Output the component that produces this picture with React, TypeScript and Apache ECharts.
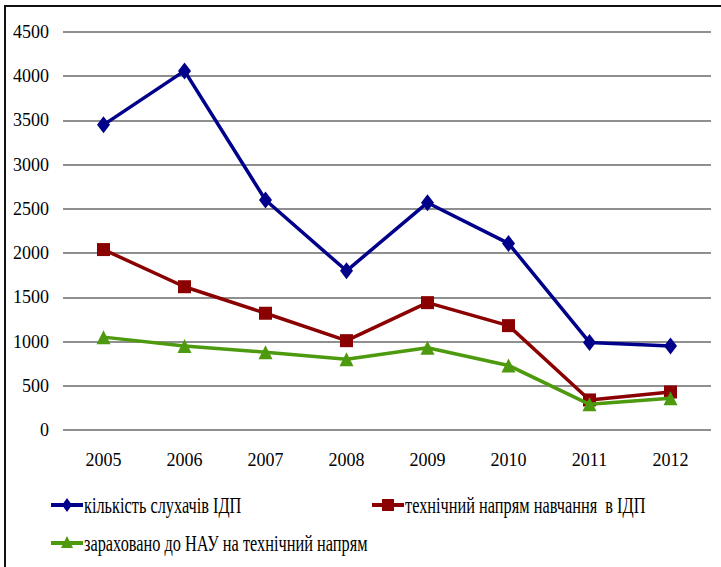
import React, { useEffect, useRef } from "react";
import * as echarts from "echarts";

const years = ["2005", "2006", "2007", "2008", "2009", "2010", "2011", "2012"];
const listeners = [3450, 4060, 2600, 1800, 2570, 2110, 990, 950];
const technical = [2040, 1620, 1320, 1010, 1440, 1180, 340, 430];
const enrolled = [1050, 950, 880, 800, 930, 730, 290, 360];

const seriesNames = [
  "кількість слухачів ІДП",
  "технічний напрям навчання  в ІДП",
  "зараховано до НАУ на технічний напрям",
];
const seriesColors = ["#00008B", "#8B0000", "#4E9A0E"];

const axisFont = "Liberation Sans Narrow";
const legendFont = "Liberation Serif";

// legend entry: short line with the series marker, then a condensed serif caption
function legendEntry(x: number, y: number, idx: number) {
  const color = seriesColors[idx];
  const cx = x + 16;
  let marker: any;
  if (idx === 0) {
    marker = {
      type: "polygon",
      shape: { points: [[cx, y - 7], [cx + 5, y], [cx, y + 7], [cx - 5, y]] },
      style: { fill: color },
    };
  } else if (idx === 1) {
    marker = {
      type: "rect",
      shape: { x: cx - 6, y: y - 6, width: 12, height: 12 },
      style: { fill: color },
    };
  } else {
    marker = {
      type: "polygon",
      shape: { points: [[cx, y - 7], [cx + 6, y + 5], [cx - 6, y + 5]] },
      style: { fill: color },
    };
  }
  return [
    {
      type: "line",
      shape: { x1: x, y1: y, x2: x + 32, y2: y },
      style: { stroke: color, lineWidth: 4 },
      silent: true,
    },
    { ...marker, silent: true },
    {
      type: "text",
      x: x + 33,
      y,
      scaleX: 0.71,
      style: {
        text: seriesNames[idx],
        fontFamily: legendFont,
        fontSize: 23,
        fill: "#000",
        verticalAlign: "middle",
        align: "left",
      },
      silent: true,
    },
  ];
}

export default function App() {
  const ref = useRef<HTMLDivElement>(null);

  useEffect(() => {
    if (!ref.current) return;
    const chart = echarts.init(ref.current, null, { renderer: "svg" });
    chart.setOption({
      animation: false,
      backgroundColor: "#fff",
      graphic: [
        {
          type: "rect",
          shape: { x: 5, y: 6, width: 740, height: 600 },
          style: { fill: "none", stroke: "#111", lineWidth: 2 },
          silent: true,
        },
        ...legendEntry(51, 505, 0),
        ...legendEntry(372, 505, 1),
        ...legendEntry(51, 543, 2),
      ],
      grid: { left: 63, right: 10, top: 32, bottom: 137, containLabel: false },
      xAxis: {
        type: "category",
        data: years,
        boundaryGap: true,
        axisLine: { show: false },
        axisTick: { show: false },
        axisLabel: { fontFamily: axisFont, fontSize: 18, color: "#000", margin: 21 },
      },
      yAxis: {
        type: "value",
        min: 0,
        max: 4500,
        interval: 500,
        axisLine: { show: false },
        axisTick: { show: false },
        axisLabel: {
          fontFamily: axisFont,
          fontSize: 18,
          color: "#000",
          margin: 14,
          formatter: (v: number) => String(v),
        },
        splitLine: { lineStyle: { color: "#6a6a6a", width: 1.5 } },
      },
      series: [
        {
          name: seriesNames[0],
          type: "line",
          data: listeners,
          symbol: "diamond",
          symbolSize: [13, 17],
          lineStyle: { color: seriesColors[0], width: 3.5 },
          itemStyle: { color: seriesColors[0] },
          z: 3,
        },
        {
          name: seriesNames[1],
          type: "line",
          data: technical,
          symbol: "rect",
          symbolSize: 13,
          lineStyle: { color: seriesColors[1], width: 3.5 },
          itemStyle: { color: seriesColors[1] },
          z: 2,
        },
        {
          name: seriesNames[2],
          type: "line",
          data: enrolled,
          symbol: "triangle",
          symbolSize: 14,
          lineStyle: { color: seriesColors[2], width: 3.5 },
          itemStyle: { color: seriesColors[2] },
          z: 4,
        },
      ],
    });
    return () => chart.dispose();
  }, []);

  return (
    <div
      ref={ref}
      style={{ position: "fixed", left: 0, top: 0, width: 721, height: 567 }}
    />
  );
}
